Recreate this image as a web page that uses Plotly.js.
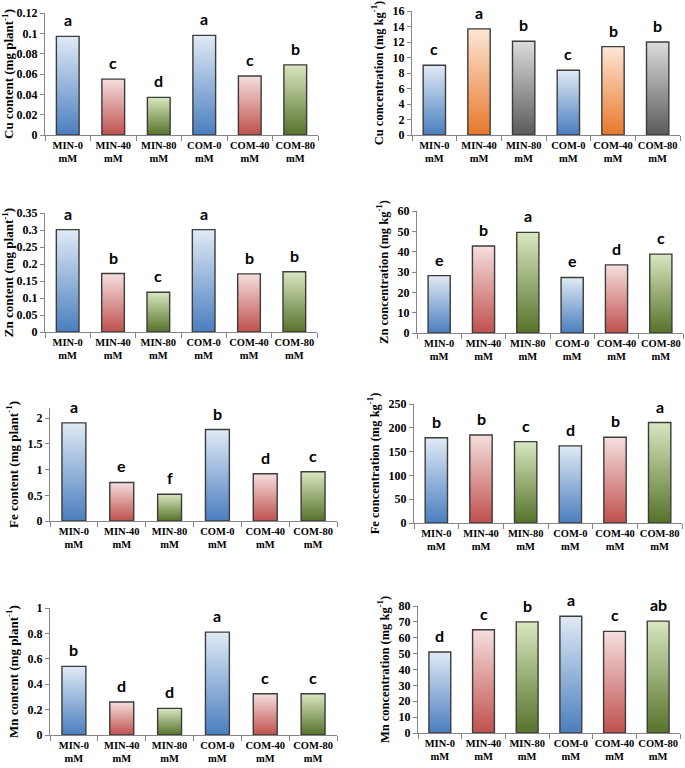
<!DOCTYPE html>
<html>
<head>
<meta charset="utf-8">
<script src="https://cdn.plot.ly/plotly-3.0.1.min.js"></script>
<style>
  html, body { margin: 0; padding: 0; background: #fff; }
  #chart { width: 685px; height: 768px; }
</style>
</head>
<body>
<div id="chart"></div>
<script>
// treatments on the x axis (same in every panel)
const treatments = ['MIN-0<br>mM', 'MIN-40<br>mM', 'MIN-80<br>mM', 'COM-0<br>mM', 'COM-40<br>mM', 'COM-80<br>mM'];

// values
const cuContent = [0.097, 0.055, 0.037, 0.098, 0.058, 0.069];
const cuContentLetters = ['a', 'c', 'd', 'a', 'c', 'b'];
const cuConc = [9.0, 13.7, 12.1, 8.35, 11.4, 12.0];
const cuConcLetters = ['c', 'a', 'b', 'c', 'b', 'b'];

const znContent = [0.301, 0.172, 0.117, 0.301, 0.171, 0.177];
const znContentLetters = ['a', 'b', 'c', 'a', 'b', 'b'];
const znConc = [28.2, 42.8, 49.5, 27.3, 33.5, 38.8];
const znConcLetters = ['e', 'b', 'a', 'e', 'd', 'c'];

const feContent = [1.91, 0.75, 0.52, 1.78, 0.92, 0.96];
const feContentLetters = ['a', 'e', 'f', 'b', 'd', 'c'];
const feConc = [179, 185, 171, 162, 180, 211];
const feConcLetters = ['b', 'b', 'c', 'd', 'b', 'a'];

const mnContent = [0.54, 0.26, 0.21, 0.81, 0.325, 0.325];
const mnContentLetters = ['b', 'd', 'd', 'a', 'c', 'c'];
const mnConc = [51, 65, 70, 73.5, 64, 70.5];
const mnConcLetters = ['d', 'c', 'b', 'a', 'c', 'ab'];

// gradient colours [bottom, top]
const blue = ['#4a7ebf', '#e0eaf5'];
const red = ['#c0504d', '#f5dfde'];
const green = ['#56722a', '#d9e7c0'];
const orange = ['#e8772a', '#fde7d6'];
const gray = ['#5a5a5a', '#dcdcdc'];

const panels = [
  { vals: cuContent, letters: cuContentLetters, title: 'Cu content (mg plant<sup>-1</sup>)',
    range: [0, 0.12], dtick: 0.02, colors: [blue, red, green, blue, red, green],
    x: [45, 318], y: [13, 135], tsize: 13 },
  { vals: cuConc, letters: cuConcLetters, title: 'Cu concentration (mg kg<sup>-1</sup>)',
    range: [0, 16], dtick: 2, colors: [blue, orange, gray, blue, orange, gray],
    x: [412, 680], y: [11, 135], tsize: 12.5 },
  { vals: znContent, letters: znContentLetters, title: 'Zn content (mg plant<sup>-1</sup>)',
    range: [0, 0.35], dtick: 0.05, colors: [blue, red, green, blue, red, green],
    x: [45, 317], y: [213, 332], tsize: 13 },
  { vals: znConc, letters: znConcLetters, title: 'Zn concentration (mg kg<sup>-1</sup>)',
    range: [0, 60], dtick: 10, colors: [blue, red, green, blue, red, green],
    x: [417, 683], y: [211, 333], tsize: 12.5 },
  { vals: feContent, letters: feContentLetters, title: 'Fe content (mg plant<sup>-1</sup>)',
    range: [0, 2.2], dtick: 0.5, colors: [blue, red, green, blue, red, green],
    x: [50, 337], y: [408, 521], tsize: 13 },
  { vals: feConc, letters: feConcLetters, title: 'Fe concentration (mg kg<sup>-1</sup>)',
    range: [0, 250], dtick: 50, colors: [blue, red, green, blue, red, green],
    x: [414, 682], y: [404, 523], tsize: 12.5 },
  { vals: mnContent, letters: mnContentLetters, title: 'Mn content (mg plant<sup>-1</sup>)',
    range: [0, 1], dtick: 0.2, colors: [blue, red, green, blue, red, green],
    x: [50, 337], y: [608, 735], tsize: 13 },
  { vals: mnConc, letters: mnConcLetters, title: 'Mn concentration (mg kg<sup>-1</sup>)',
    range: [0, 80], dtick: 10, colors: [blue, red, green, blue, red, green],
    x: [418, 680], y: [606, 733], tsize: 12.5 }
];

const W = 685, H = 768;
const barW = 0.5;
const serif = 'Liberation Serif, Times New Roman, serif';
const axisGray = '#868686';

const data = [];
const annotations = [];
const layout = {
  width: W, height: H,
  margin: { l: 0, r: 0, t: 0, b: 0 },
  paper_bgcolor: '#fff', plot_bgcolor: 'rgba(0,0,0,0)',
  showlegend: false,
  annotations: annotations
};

panels.forEach((p, k) => {
  const n = k + 1;
  const xa = 'x' + n, ya = 'y' + n;

  p.vals.forEach((v, i) => {
    data.push({
      type: 'scatter', mode: 'lines',
      x: [i - barW / 2, i - barW / 2, i + barW / 2, i + barW / 2, i - barW / 2],
      y: [0, v, v, 0, 0],
      fill: 'toself',
      fillgradient: { type: 'vertical', colorscale: [[0, p.colors[i][0]], [1, p.colors[i][1]]] },
      line: { color: '#3c3c3c', width: 1.4 },
      xaxis: xa, yaxis: ya, hoverinfo: 'skip'
    });
    annotations.push({
      xref: xa, yref: ya, x: i, y: v, text: p.letters[i],
      showarrow: false, yanchor: 'bottom', yshift: 5,
      font: { family: 'Lato, Open Sans, sans-serif', size: 16, color: '#000', weight: 'bold' }
    });
  });

  layout['xaxis' + n] = {
    domain: [p.x[0] / W, p.x[1] / W], anchor: ya,
    range: [-0.5, 5.5], tickmode: 'array', tickvals: [0, 1, 2, 3, 4, 5], ticktext: treatments,
    tickangle: 0, ticks: '', showgrid: false, zeroline: false,
    showline: true, linecolor: axisGray, linewidth: 1,
    tickfont: { family: serif, size: 10.5, color: '#000', weight: 'bold' },
    minor: { tickmode: 'array', tickvals: [-0.5, 0.5, 1.5, 2.5, 3.5, 4.5, 5.5],
             ticks: 'outside', ticklen: 5, tickcolor: axisGray, tickwidth: 1 },
    fixedrange: true
  };
  layout['yaxis' + n] = {
    domain: [1 - p.y[1] / H, 1 - p.y[0] / H], anchor: xa,
    range: p.range, dtick: p.dtick, tick0: 0,
    ticks: 'outside', ticklen: 4, tickcolor: axisGray,
    showgrid: false, zeroline: false,
    showline: true, linecolor: axisGray, linewidth: 1,
    tickfont: { family: serif, size: 12, color: '#000', weight: 'bold' },
    title: { text: p.title, standoff: 6,
             font: { family: serif, size: p.tsize, color: '#000', weight: 'bold' } },
    fixedrange: true
  };
});

Plotly.newPlot('chart', data, layout, { staticPlot: true });
</script>
</body>
</html>
